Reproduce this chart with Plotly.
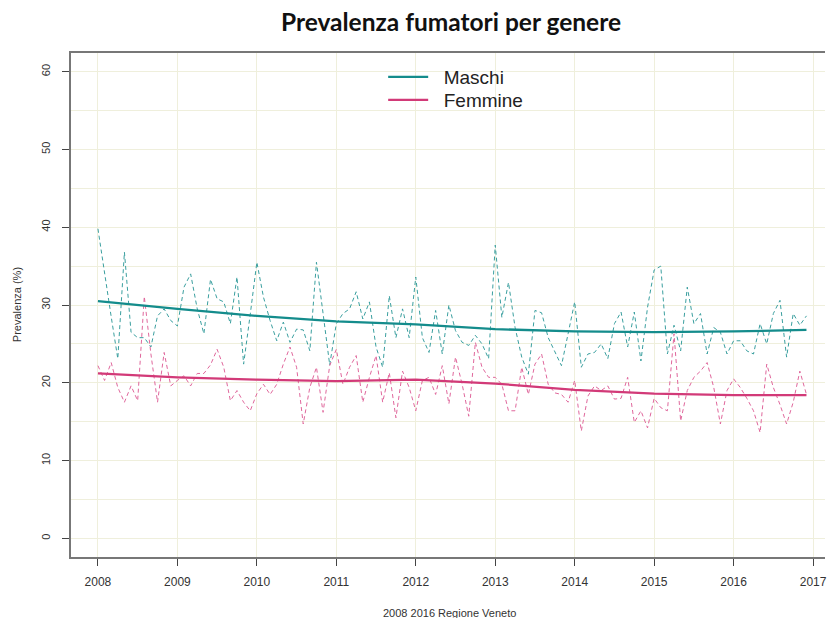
import plotly.graph_objects as go

# ---- data (monthly, Jan 2008 - Dec 2016) ----
maschi = [39.8, 34.0, 28.5, 23.1, 36.8, 26.5, 25.8, 25.8, 24.6, 28.6, 29.5, 28.0,
          27.3, 32.3, 34.0, 29.5, 26.3, 33.3, 30.8, 30.4, 27.6, 33.6, 22.4, 28.8,
          35.5, 31.0, 28.0, 25.4, 27.8, 25.2, 26.9, 26.8, 24.1, 35.5, 28.9, 22.3,
          27.6, 28.9, 29.5, 31.7, 28.2, 30.4, 24.6, 22.0, 31.2, 25.8, 29.5, 25.8,
          33.6, 25.8, 23.9, 29.3, 23.7, 30.0, 26.7, 25.2, 24.8, 26.1, 25.0, 23.1,
          37.7, 28.4, 32.9, 27.1, 23.3, 21.1, 29.3, 29.0, 25.8, 24.1, 22.2, 26.3,
          30.4, 22.0, 23.7, 23.9, 25.0, 23.1, 27.6, 29.1, 24.6, 29.1, 22.8, 29.7,
          34.5, 35.0, 23.7, 27.4, 24.1, 32.3, 27.6, 28.9, 23.7, 27.1, 26.5, 23.7,
          25.4, 25.4, 24.1, 23.7, 27.6, 25.0, 28.9, 30.6, 23.3, 28.9, 27.4, 28.6]

femmine = [22.2, 20.3, 22.6, 19.4, 17.5, 19.6, 17.7, 31.1, 23.7, 17.5, 23.9, 19.6,
           20.3, 20.9, 19.6, 21.2, 21.2, 22.3, 24.3, 22.0, 17.7, 19.0, 17.5, 16.4,
           18.6, 19.8, 18.5, 19.8, 22.4, 24.6, 22.0, 14.7, 19.4, 22.0, 16.2, 22.2,
           24.3, 19.8, 22.0, 23.5, 17.5, 20.7, 23.5, 17.5, 21.3, 15.5, 21.5, 19.4,
           16.4, 20.3, 20.7, 18.5, 22.2, 17.3, 23.3, 19.8, 15.7, 25.2, 22.0, 20.7,
           20.7, 19.8, 16.4, 16.4, 22.0, 18.5, 22.4, 23.7, 19.8, 18.7, 18.5, 17.5,
           20.3, 13.8, 18.3, 19.6, 19.0, 19.6, 17.9, 18.0, 20.7, 14.9, 16.4, 14.2,
           18.0, 16.8, 16.4, 26.3, 15.1, 19.0, 20.7, 21.5, 22.6, 19.4, 14.7, 19.0,
           20.5, 19.4, 18.0, 16.4, 13.6, 22.4, 19.4, 17.2, 14.7, 17.5, 21.5, 18.5]

months = [2008 + i / 12 for i in range(len(maschi))]

trend_x = [2008, 2009, 2010, 2011, 2012, 2013, 2014, 2015, 2016, 2016 + 11 / 12]
maschi_trend = [30.5, 29.5, 28.6, 27.9, 27.5, 26.9, 26.6, 26.5, 26.6, 26.8]
femmine_trend = [21.2, 20.7, 20.4, 20.2, 20.4, 19.9, 19.1, 18.6, 18.4, 18.4]

year_ticks = [2008, 2009, 2010, 2011, 2012, 2013, 2014, 2015, 2016, 2017]
y_ticks = [0, 10, 20, 30, 40, 50, 60]

TEAL_D = "#3a9f9f"
TEAL = "#148c8c"
PINK_D = "#e0679c"
PINK = "#d23a78"

fig = go.Figure()
fig.add_trace(go.Scatter(x=months, y=maschi, mode="lines", showlegend=False,
                         line=dict(color=TEAL_D, width=1, dash="4px,3px"), hoverinfo="skip"))
fig.add_trace(go.Scatter(x=months, y=femmine, mode="lines", showlegend=False,
                         line=dict(color=PINK_D, width=1, dash="4px,3px"), hoverinfo="skip"))
fig.add_trace(go.Scatter(x=trend_x, y=maschi_trend, mode="lines", name="\u00a0\u00a0Maschi",
                         line=dict(color=TEAL, width=2.3), legend="legend"))
fig.add_trace(go.Scatter(x=trend_x, y=femmine_trend, mode="lines", name="\u00a0\u00a0Femmine",
                         line=dict(color=PINK, width=2.3), legend="legend2"))

GRID = "#efefdc"
LEG_FONT = dict(family="Liberation Sans", size=19, color="#222")


def leg(top_px):
    return dict(x=(384 - 71) / 756, y=(557 - top_px) / 504, xanchor="left", yanchor="top",
                bgcolor="rgba(0,0,0,0)", itemwidth=40, font=LEG_FONT)


fig.update_layout(
    width=827, height=618,
    margin=dict(l=71, r=0, t=53, b=61),
    paper_bgcolor="white", plot_bgcolor="white",
    showlegend=True,
    legend=leg(58),
    legend2=leg(81),
    title=dict(text="<b>Prevalenza fumatori per genere</b>", xref="container", yref="container",
               x=451 / 827, y=1 - 22 / 618, xanchor="center", yanchor="middle",
               font=dict(family="Lato", size=24.5, color="#111")),
    font=dict(family="Liberation Sans", color="#333"),
)

fig.update_xaxes(
    range=[2007.661, 2017.15], tickvals=year_ticks, ticktext=[str(y) for y in year_ticks],
    showgrid=True, gridcolor=GRID, gridwidth=1, zeroline=False,
    showline=True, linecolor="#777", linewidth=1.5, mirror=True,
    ticks="outside", ticklen=7, tickcolor="#444", tickwidth=1.2,
    tickfont=dict(family="Liberation Sans", size=12, color="#333"),
    ticklabelstandoff=6, ticklabeloverflow="allow",
)
fig.update_yaxes(
    range=[-2.4, 62.4], tickvals=y_ticks, ticktext=[str(v) for v in y_ticks],
    tickangle=-90,
    showgrid=True, gridcolor=GRID, gridwidth=1, zeroline=False,
    minor=dict(dtick=5, tick0=0, showgrid=True, gridcolor=GRID, gridwidth=1, ticks=""),
    showline=True, linecolor="#777", linewidth=1.5, mirror=False,
    ticks="outside", ticklen=7, tickcolor="#444", tickwidth=1.2,
    tickfont=dict(family="Liberation Sans", size=11, color="#333"),
    ticklabelstandoff=8,
)

fig.add_annotation(text="Prevalenza (%)", xref="paper", yref="paper", x=-54 / 756, y=0.5,
                   xanchor="center", yanchor="middle", textangle=-90, showarrow=False,
                   font=dict(family="Liberation Sans", size=11, color="#333"))
fig.add_annotation(text="2008 2016 Regione Veneto", xref="paper", yref="paper",
                   x=(451 - 71) / 756, y=-(613 - 557) / 504,
                   xanchor="center", yanchor="middle", showarrow=False,
                   font=dict(family="Liberation Sans", size=11, color="#333"))

fig.write_html("out.html", config={"displayModeBar": False},
               post_script="document.body.style.margin='0px';")
